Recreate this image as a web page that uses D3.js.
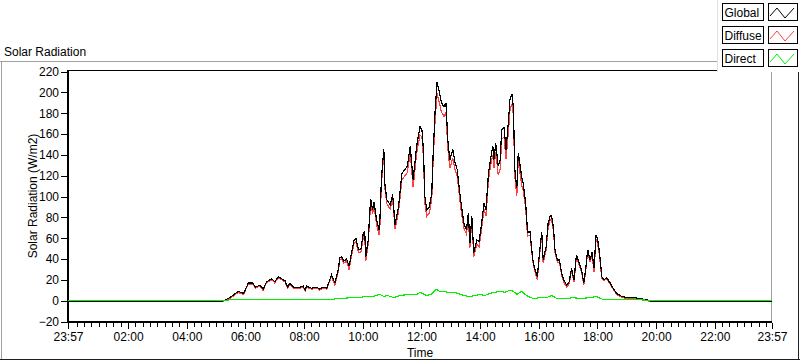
<!DOCTYPE html>
<html>
<head>
<meta charset="utf-8">
<script src="https://cdn.jsdelivr.net/npm/d3@7"></script>
<style>
  body { margin: 0; background: #fff; }
  svg { display: block; font-family: "Liberation Sans", Arial, sans-serif; }
</style>
</head>
<body>
<div id="chart"></div>
<script>
// Data (W/m2). First '23:57' is the previous day.
var times = ['23:57','05:11','05:28','05:45','05:56','06:06','06:15','06:20','06:30','06:36','06:43','06:54',
  '07:00','07:07','07:14','07:21','07:26','07:31','07:38','07:52','07:58','08:02','08:05','08:15','08:26',
  '08:32','08:39','08:46','08:51','08:56','09:00','09:03','09:10','09:13','09:17','09:21','09:27','09:32',
  '09:37','09:42','09:46','09:51','09:56','10:01','10:04','10:06','10:11','10:16','10:20','10:23','10:28',
  '10:33','10:35','10:38','10:43','10:45','10:49','10:56','11:01','11:06','11:13','11:20','11:26','11:31',
  '11:37','11:43','11:50','11:57','12:01','12:04','12:07','12:11','12:16','12:21','12:24','12:28','12:32',
  '12:37','12:41','12:46','12:50','12:54','12:58','13:04','13:09','13:13','13:17','13:22','13:27','13:32',
  '13:36','13:39','13:43','13:47','13:53','13:58','14:03','14:08','14:12','14:17','14:22','14:26','14:28',
  '14:32','14:37','14:41','14:44','14:49','14:53','14:58','15:01','15:05','15:08','15:11','15:15','15:18',
  '15:22','15:25','15:28','15:33','15:37','15:42','15:45','15:48','15:52','15:57','16:01','16:06','16:09',
  '16:15','16:19','16:23','16:26','16:30','16:33','16:38','16:42','16:47','16:51','16:57','17:02','17:07',
  '17:12','17:17','17:23','17:28','17:32','17:36','17:40','17:45','17:49','17:53','17:57','18:00','18:04',
  '18:09','18:13','18:19','18:26','18:32','18:39','18:50','19:00','19:13','19:27','19:41','19:51','23:57'];

var global = [-1,-1,3,9,7,17,17,13,15,11,18,21,
  18,23,21,19,13,17,13,13,14,10,14,12,13,
  11,13,12,18,25,20,17,30,41,42,38,40,33,
  46,58,60,49,49,65,66,42,58,98,87,95,78,
  68,78,116,146,113,97,92,102,73,90,122,126,129,
  148,116,148,167,164,145,100,87,90,103,142,183,210,
  199,190,186,190,154,135,145,132,126,109,90,74,68,
  84,55,81,46,58,57,74,94,87,122,138,148,135,
  151,129,135,164,166,145,173,193,198,186,126,108,142,
  129,119,113,94,66,66,52,39,30,23,44,66,39,
  52,74,81,82,70,49,39,39,26,20,15,18,31,
  20,44,36,28,17,31,49,39,47,31,63,60,47,
  23,20,22,17,12,7,4,3,3,2,1,-1,-1];

var diffuse = [-1,-1,2,8,6,16,16,12,14,10,17,20,
  17,22,20,18,12,16,12,12,13,9,13,11,12,
  10,12,11,17,24,18,15,28,39,40,36,38,30,
  43,55,57,46,46,61,62,38,54,94,83,91,74,
  63,72,111,142,109,93,88,98,69,85,116,120,123,
  142,109,141,159,157,138,93,81,84,97,136,174,199,
  189,181,177,181,146,127,137,125,120,103,84,69,64,
  80,51,77,42,54,52,69,88,81,116,131,140,127,
  143,121,126,155,157,136,163,183,189,178,119,101,135,
  121,111,106,90,62,63,49,37,28,20,41,63,36,
  49,70,77,78,67,47,37,37,24,18,13,16,29,
  18,42,34,26,15,29,47,37,44,28,59,56,44,
  21,19,21,16,11,6,3,2,2,1,0,-1,-1];

var directTimes = ['23:57','05:24','05:28','08:55','09:06','09:20','09:34','09:50','10:08','10:20','10:35',
  '10:43','10:50','11:03','11:16','11:37','11:50','11:57','12:11','12:20','12:30','12:37','12:45','12:55',
  '13:05','13:15','13:26','13:39','13:50','14:00','14:10','14:20','14:30','14:41','14:50','15:01','15:08',
  '15:15','15:25','15:32','15:39','15:49','16:03','16:16','16:26','16:37','16:57','17:10','17:24','17:45',
  '17:58','18:12','18:26','19:27','19:51','23:57'];
var direct = [0,0,1,1,2,2,3,3,4,4,6,
  4,5,3,5,6,6,8,5,6,11,9,9,8,
  8,7,5,4,5,6,5,7,8,9,8,10,9,
  6,9,6,4,2,3,3,5,2,2,3,2,3,
  4,1,1,1,0,0];

var seriesNames = ['Global', 'Diffuse', 'Direct'];
var seriesColors = ['#000000', '#ff4040', '#00f000'];
var xTicks = ['23:57','02:00','04:00','06:00','08:00','10:00','12:00','14:00','16:00','18:00','20:00','22:00','23:57'];
var yTicks = [-20, 0, 20, 40, 60, 80, 100, 120, 140, 160, 180, 200, 220];

var width = 800;
var height = 361;
var plot = { left: 68, right: 772, top: 71.5, bottom: 321.5 };

var parseHM = d3.timeParse('%H:%M');
// first entry of a list is 23:57 of the day before
function toDate(s, i) {
  var d = parseHM(s);
  return i === 0 ? d3.timeDay.offset(d, -1) : d;
}

var svg = d3.select('#chart')
  .append('svg')
  .attr('width', width)
  .attr('height', height);

// Panel
svg.append('line').attr('x1', 0).attr('x2', 720).attr('y1', 61.5).attr('y2', 61.5).attr('stroke', '#a0a0a0');
svg.append('line').attr('x1', 1.5).attr('x2', 1.5).attr('y1', 61).attr('y2', 360).attr('stroke', '#a0a0a0');
svg.append('line').attr('x1', 0).attr('x2', 800).attr('y1', 359.5).attr('y2', 359.5).attr('stroke', '#202020');
svg.append('line').attr('x1', 798.5).attr('x2', 798.5).attr('y1', 61).attr('y2', 360).attr('stroke', '#202020');

svg.append('text')
  .attr('x', 4)
  .attr('y', 56)
  .attr('font-size', 12)
  .text('Solar Radiation');

// Scales
var xScale = d3.scaleTime()
  .domain([toDate(xTicks[0], 0), toDate(xTicks[xTicks.length - 1], xTicks.length - 1)])
  .range([plot.left, plot.right]);

var yScale = d3.scaleLinear()
  .domain([yTicks[0], yTicks[yTicks.length - 1]])
  .range([plot.bottom, plot.top]);

// Frame top/right
svg.append('line').attr('x1', plot.left).attr('x2', plot.right).attr('y1', 70.5).attr('y2', 70.5).attr('stroke', '#000');
svg.append('line').attr('x1', plot.right - 0.5).attr('x2', plot.right - 0.5).attr('y1', 70).attr('y2', 322).attr('stroke', '#a0a0a0');

// Y axis
var yAxis = d3.axisLeft(yScale)
  .tickValues(yTicks)
  .tickSize(6)
  .tickPadding(2);
var gy = svg.append('g')
  .attr('transform', 'translate(' + (plot.left - 1) + ',0)')
  .call(yAxis);
gy.select('.domain').remove();
gy.selectAll('text').attr('font-size', 12).attr('font-family', 'Liberation Sans, Arial, sans-serif').attr('fill', '#000');

// X axis (major + minor)
var majorDates = xTicks.map(toDate);
var minorDates = d3.timeMinute.every(15).range(majorDates[0], majorDates[majorDates.length - 1])
  .filter(function (d) { return d.getMinutes() !== 0 || d.getHours() % 2 !== 0; });

var gxMinor = svg.append('g')
  .attr('transform', 'translate(0,' + (plot.bottom + 1) + ')')
  .call(d3.axisBottom(xScale).tickValues(minorDates).tickSize(4).tickFormat(''));
gxMinor.select('.domain').remove();

var gx = svg.append('g')
  .attr('transform', 'translate(0,' + (plot.bottom + 1) + ')')
  .call(d3.axisBottom(xScale)
    .tickValues(majorDates)
    .tickSize(6)
    .tickPadding(4)
    .tickFormat(function (d, i) { return xTicks[i]; }));
gx.select('.domain').remove();
gx.selectAll('text').attr('font-size', 12).attr('font-family', 'Liberation Sans, Arial, sans-serif').attr('fill', '#000');
svg.selectAll('.tick line').attr('shape-rendering', 'crispEdges');

// Axis lines (left + bottom)
svg.append('line').attr('x1', plot.left).attr('x2', plot.left).attr('y1', 70).attr('y2', plot.bottom + 1.5)
  .attr('stroke', '#000').attr('stroke-width', 2);
svg.append('line').attr('x1', plot.left - 1).attr('x2', plot.right).attr('y1', plot.bottom + 0.5).attr('y2', plot.bottom + 0.5)
  .attr('stroke', '#000').attr('stroke-width', 2);

// Axis titles
svg.append('text')
  .attr('transform', 'translate(37,196) rotate(-90)')
  .attr('text-anchor', 'middle')
  .attr('font-size', 12)
  .text('Solar Radiation (W/m2)');

svg.append('text')
  .attr('x', (plot.left + plot.right) / 2)
  .attr('y', 357)
  .attr('text-anchor', 'middle')
  .attr('font-size', 12)
  .text('Time');

// Lines
var line = d3.line()
  .x(function (d) { return xScale(d.t); })
  .y(function (d) { return yScale(d.v); });

var globalPts = times.map(function (s, i) { return { t: toDate(s, i), v: global[i] }; });
var diffusePts = times.map(function (s, i) { return { t: toDate(s, i), v: diffuse[i] }; });
var directPts = directTimes.map(function (s, i) { return { t: toDate(s, i), v: direct[i] }; });

var plotArea = svg.append('g');
[[diffusePts, seriesColors[1]], [globalPts, seriesColors[0]], [directPts, seriesColors[2]]].forEach(function (s) {
  plotArea.append('path')
    .datum(s[0])
    .attr('d', line)
    .attr('fill', 'none')
    .attr('stroke', s[1])
    .attr('stroke-width', 1.2)
    .attr('shape-rendering', 'crispEdges');
});

// Legend
var legend = svg.append('g');
legend.append('rect')
  .attr('x', 717).attr('y', 0).attr('width', 83).attr('height', 72)
  .attr('fill', '#fff');
legend.append('line').attr('x1', 717.5).attr('x2', 717.5).attr('y1', 0).attr('y2', 72).attr('stroke', '#e0e0e0');

var entries = legend.selectAll('g.entry')
  .data(seriesNames)
  .enter()
  .append('g')
  .attr('class', 'entry')
  .attr('transform', function (d, i) { return 'translate(0,' + (i * 23) + ')'; });

entries.append('rect')
  .attr('x', 722.5).attr('y', 3.5).attr('width', 41).attr('height', 17)
  .attr('fill', '#fff').attr('stroke', '#000');
entries.append('text')
  .attr('x', 724.5).attr('y', 16.5)
  .attr('font-size', 12)
  .text(function (d) { return d; });
entries.append('rect')
  .attr('x', 768.5).attr('y', 3.5).attr('width', 29).attr('height', 17)
  .attr('fill', '#fff').attr('stroke', '#000');
entries.append('polyline')
  .attr('points', '770,16 777,8 785,18 794,8')
  .attr('fill', 'none')
  .attr('stroke', function (d, i) { return seriesColors[i]; });
</script>
</body>
</html>
